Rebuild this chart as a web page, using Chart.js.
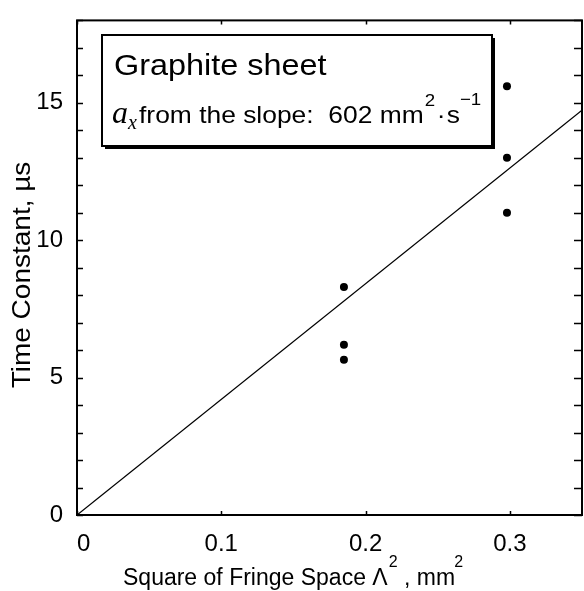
<!DOCTYPE html>
<html>
<head>
<meta charset="utf-8">
<script src="https://cdn.jsdelivr.net/npm/chart.js@4.4.0/dist/chart.umd.min.js"></script>
<style>
html, body { margin: 0; padding: 0; background: #fff; overflow: hidden; }
#wrap { width: 586px; height: 591px; }
</style>
</head>
<body>
<div id="wrap"><canvas id="chart" width="586" height="591"></canvas></div>
<script>
// square of fringe space (mm^2) and measured time constant (us)
var fringeSq = [0.185, 0.185, 0.185, 0.298, 0.298, 0.298];
var timeConst = [8.3, 6.2, 5.65, 15.6, 13.0, 11.0];

// fitted line, a_x = 602 mm^2/s, given by its two end points
var fitX = [0, 0.35];
var fitY = [0, 14.73];

var xTicks = [0, 0.1, 0.2, 0.3];
var xTickLabels = ["  0", "0.1", "0.2", "0.3"];
var yTicks = [0, 5, 10, 15];
var yMinor = [0, 1, 2, 3, 4, 5, 6, 7, 8, 9, 10, 11, 12, 13, 14, 15, 16, 17, 18];

var SANS = '"Liberation Sans", Arial, Helvetica, sans-serif';
var SERIF = '"Liberation Serif", "Times New Roman", serif';

function pts(xs, ys) {
    return xs.map(function (x, i) { return { x: x, y: ys[i] }; });
}

// frame, inward ticks, axis titles and the note box
var decor = {
    id: "decor",
    afterDraw: function (chart) {
        var c = chart.ctx;
        var a = chart.chartArea;
        var sx = chart.scales.x, sy = chart.scales.y;
        c.save();
        c.strokeStyle = "#000";
        c.fillStyle = "#000";
        c.lineWidth = 2;
        c.strokeRect(a.left, a.top, a.right - a.left, a.bottom - a.top);

        c.lineWidth = 1.5;
        c.beginPath();
        yMinor.forEach(function (v) {
            var y = Math.round(sy.getPixelForValue(v)) + 0.5;
            c.moveTo(a.left, y); c.lineTo(a.left + 6, y);
            c.moveTo(a.right, y); c.lineTo(a.right - 8, y);
        });
        xTicks.forEach(function (v) {
            var x = Math.round(sx.getPixelForValue(v)) + 0.5;
            c.moveTo(x, a.bottom); c.lineTo(x, a.bottom - 4);
            c.moveTo(x, a.top); c.lineTo(x, a.top + 4);
        });
        c.stroke();

        // y title
        c.save();
        c.translate(23, 275);
        c.rotate(-Math.PI / 2);
        c.scale(1.12, 1);
        c.font = "25px " + SANS;
        c.textAlign = "center";
        c.textBaseline = "middle";
        c.fillText("Time Constant, \u00b5s", 0, 0);
        c.restore();

        // x title
        c.textBaseline = "alphabetic";
        c.textAlign = "left";
        c.font = "23px " + SANS;
        var tx = 123, ty = 585;
        var s1 = "Square of Fringe Space \u039b";
        c.fillText(s1, tx, ty);
        tx += c.measureText(s1).width;
        c.font = "16px " + SANS;
        c.fillText("2", tx + 1, ty - 18);
        tx += 10;
        c.font = "23px " + SANS;
        var s2 = " , mm";
        c.fillText(s2, tx, ty);
        tx += c.measureText(s2).width;
        c.font = "16px " + SANS;
        c.fillText("2", tx - 1, ty - 18);

        // note box
        var bx = 102, by = 35, bw = 390, bh = 111;
        c.fillStyle = "#fff";
        c.fillRect(bx, by, bw, bh);
        c.lineWidth = 2;
        c.strokeRect(bx, by, bw, bh);
        c.beginPath();
        c.moveTo(bx + bw + 2, by + 3); c.lineTo(bx + bw + 2, by + bh + 2);
        c.lineTo(bx + 3, by + bh + 2);
        c.stroke();

        c.fillStyle = "#000";
        c.save();
        c.translate(114, 75);
        c.scale(1.08, 1);
        c.font = "30px " + SANS;
        c.fillText("Graphite sheet", 0, 0);
        c.restore();

        c.font = "italic 32px " + SERIF;
        c.fillText("a", 112, 123);
        c.font = "italic 20px " + SERIF;
        c.fillText("x", 128, 129);

        c.save();
        c.translate(139, 123);
        c.scale(1.1, 1);
        c.font = "24px " + SANS;
        c.fillText("from the slope:  602 mm", 0, 0);
        var w = c.measureText("from the slope:  602 mm").width;
        c.font = "17px " + SANS;
        c.fillText("2", w + 1, -17);
        c.font = "24px " + SANS;
        c.fillText("\u00b7", w + 12, 0);
        c.fillText("s", w + 21, 0);
        c.font = "17px " + SANS;
        c.fillText("\u22121", w + 33, -18);
        c.restore();

        c.restore();
    }
};

var ctx = document.getElementById("chart").getContext("2d");
var myChart = new Chart(ctx, {
    type: "scatter",
    data: {
        datasets: [
            {
                label: "Measured",
                data: pts(fringeSq, timeConst),
                backgroundColor: "#000",
                borderColor: "#000",
                pointRadius: 4,
                borderWidth: 0,
            },
            {
                label: "Fit",
                type: "line",
                data: pts(fitX, fitY),
                borderColor: "#000",
                borderWidth: 1.3,
                pointRadius: 0,
                fill: false,
            },
        ],
    },
    options: {
        responsive: false,
        animation: false,
        layout: { padding: { top: 11, right: 1, left: 0, bottom: 0 } },
        plugins: { legend: { display: false }, tooltip: { enabled: false } },
        scales: {
            x: {
                type: "linear",
                min: 0,
                max: 0.35,
                grid: { display: false },
                border: { display: false },
                afterBuildTicks: function (s) {
                    s.ticks = xTicks.map(function (v) { return { value: v }; });
                },
                afterFit: function (s) { s.height = 76; },
                ticks: {
                    color: "#000",
                    padding: 7,
                    font: { size: 24, family: SANS },
                    callback: function (v, i) { return xTickLabels[i]; },
                },
            },
            y: {
                min: 0,
                max: 18,
                grid: { display: false },
                border: { display: false },
                afterBuildTicks: function (s) {
                    s.ticks = yTicks.map(function (v) { return { value: v }; });
                },
                afterFit: function (s) { s.width = 77; },
                ticks: {
                    color: "#000",
                    padding: 6,
                    font: { size: 24, family: SANS },
                },
            },
        },
    },
    plugins: [decor],
});
</script>
</body>
</html>
